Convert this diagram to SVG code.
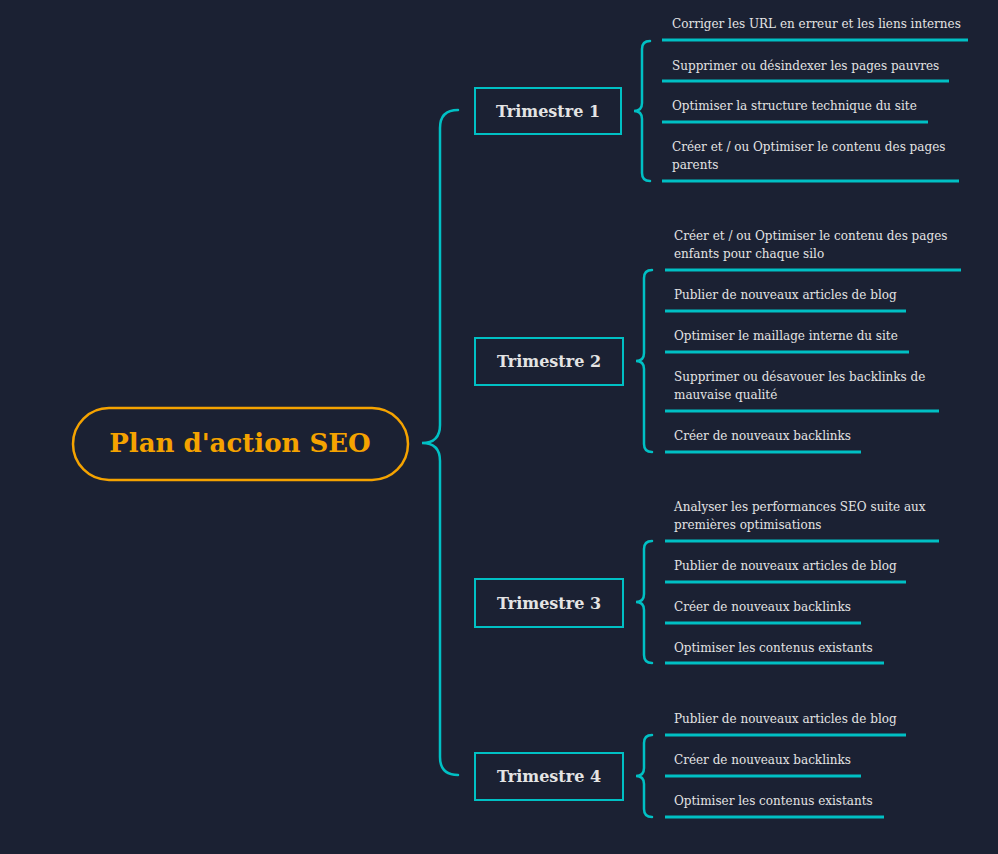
<svg xmlns="http://www.w3.org/2000/svg" width="998" height="854" viewBox="0 0 998 854">
<style>
.c{fill:none;stroke:#00c0c4;stroke-width:2.5;stroke-linecap:round}
.u{stroke:#00c0c4;stroke-width:3}
.t{font-family:"DejaVu Serif",Georgia,serif;font-size:12px;fill:#e4e4e4}
.b{fill:#1b2133;stroke:#00c0c4;stroke-width:2}
.bt{font-family:"DejaVu Serif",Georgia,serif;font-size:16px;font-weight:bold;fill:#e4e4e4;text-anchor:middle}
</style>
<rect width="998" height="854" fill="#1b2133"/>
<g id="connectors">
<path class="c" d="M458 110 Q440 110 440 128 L440 425 Q440 443 422 443 Q440 443 440 461 L440 757 Q440 775 458 775"/>
<path class="c" d="M650 41 Q642 41 642 49 L642 103 Q642 111 634 111 Q642 111 642 119 L642 173 Q642 181 650 181"/>
<path class="c" d="M652 270 Q644 270 644 278 L644 353 Q644 361 636 361 Q644 361 644 369 L644 444 Q644 452 652 452"/>
<path class="c" d="M652 541 Q644 541 644 549 L644 594 Q644 602 636 602 Q644 602 644 610 L644 655 Q644 663 652 663"/>
<path class="c" d="M652 735 Q644 735 644 743 L644 768 Q644 776 636 776 Q644 776 644 784 L644 809 Q644 817 652 817"/>
</g>
<g id="root">
<rect x="73" y="408" width="335" height="72" rx="36" fill="#1b2133" stroke="#f5a300" stroke-width="2.5"/>
<text x="240" y="452" text-anchor="middle" font-family="DejaVu Serif,Georgia,serif" font-size="26" font-weight="bold" fill="#f5a300">Plan d'action SEO</text>
</g>
<g id="t1"><rect class="b" x="475" y="88" width="146" height="46"/><text class="bt" x="548" y="117">Trimestre 1</text></g>
<g id="t2"><rect class="b" x="475" y="338" width="148" height="47"/><text class="bt" x="549" y="367">Trimestre 2</text></g>
<g id="t3"><rect class="b" x="475" y="579" width="148" height="48"/><text class="bt" x="549" y="609">Trimestre 3</text></g>
<g id="t4"><rect class="b" x="475" y="753" width="148" height="47"/><text class="bt" x="549" y="782">Trimestre 4</text></g>
<g id="t1items">
<text class="t" x="672" y="28">Corriger les URL en erreur et les liens internes</text><line class="u" x1="662" y1="40" x2="968" y2="40"/>
<text class="t" x="672" y="70">Supprimer ou désindexer les pages pauvres</text><line class="u" x1="662" y1="81" x2="949" y2="81"/>
<text class="t" x="672" y="110">Optimiser la structure technique du site</text><line class="u" x1="662" y1="122" x2="928" y2="122"/>
<text class="t" x="672" y="151">Créer et / ou Optimiser le contenu des pages</text><text class="t" x="672" y="169">parents</text><line class="u" x1="662" y1="181" x2="959" y2="181"/>
</g>
<g id="t2items">
<text class="t" x="674" y="240">Créer et / ou Optimiser le contenu des pages</text><text class="t" x="674" y="258">enfants pour chaque silo</text><line class="u" x1="665" y1="270" x2="961" y2="270"/>
<text class="t" x="674" y="299">Publier de nouveaux articles de blog</text><line class="u" x1="665" y1="311" x2="906" y2="311"/>
<text class="t" x="674" y="340">Optimiser le maillage interne du site</text><line class="u" x1="665" y1="352" x2="909" y2="352"/>
<text class="t" x="674" y="381">Supprimer ou désavouer les backlinks de</text><text class="t" x="674" y="399">mauvaise qualité</text><line class="u" x1="665" y1="411" x2="939" y2="411"/>
<text class="t" x="674" y="440">Créer de nouveaux backlinks</text><line class="u" x1="665" y1="452" x2="861" y2="452"/>
</g>
<g id="t3items">
<text class="t" x="674" y="511">Analyser les performances SEO suite aux</text><text class="t" x="674" y="529">premières optimisations</text><line class="u" x1="665" y1="541" x2="939" y2="541"/>
<text class="t" x="674" y="570">Publier de nouveaux articles de blog</text><line class="u" x1="665" y1="582" x2="906" y2="582"/>
<text class="t" x="674" y="611">Créer de nouveaux backlinks</text><line class="u" x1="665" y1="623" x2="861" y2="623"/>
<text class="t" x="674" y="652">Optimiser les contenus existants</text><line class="u" x1="665" y1="663" x2="884" y2="663"/>
</g>
<g id="t4items">
<text class="t" x="674" y="723">Publier de nouveaux articles de blog</text><line class="u" x1="665" y1="735" x2="906" y2="735"/>
<text class="t" x="674" y="764">Créer de nouveaux backlinks</text><line class="u" x1="665" y1="776" x2="861" y2="776"/>
<text class="t" x="674" y="805">Optimiser les contenus existants</text><line class="u" x1="665" y1="817" x2="884" y2="817"/>
</g>
</svg>
